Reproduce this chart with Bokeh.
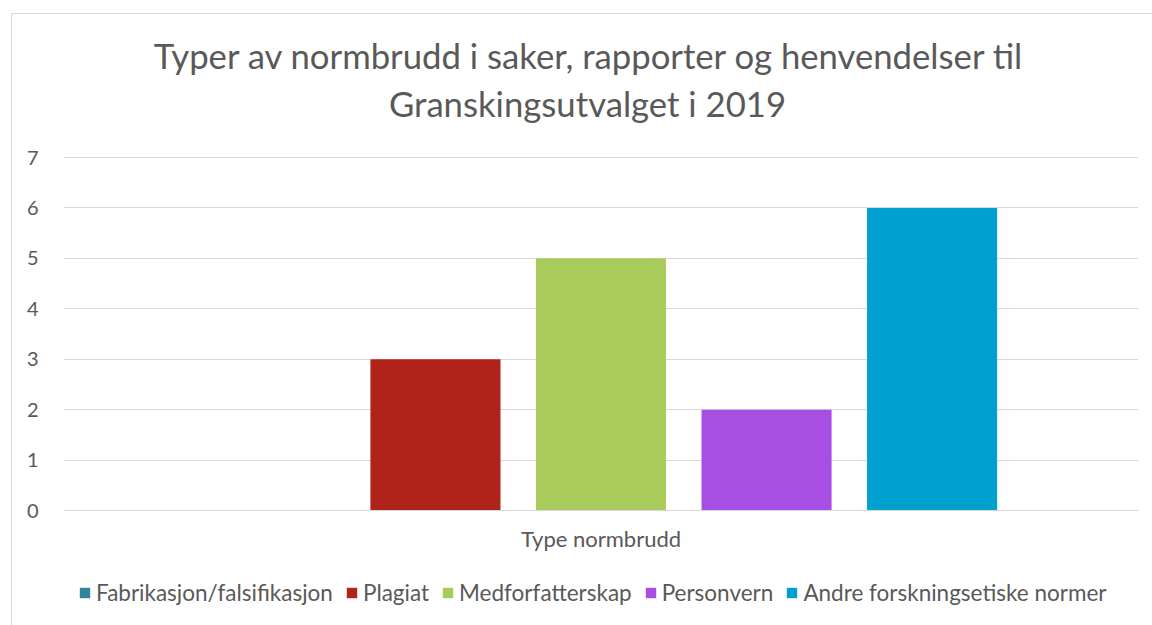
from bokeh.plotting import figure
from bokeh.layouts import column
from bokeh.models import ColumnDataSource, FactorRange, Range1d, FixedTicker, Label, Legend
from bokeh.transform import dodge
from bokeh.embed import file_html
from bokeh.resources import INLINE

# ---- data ----
category = ["Type normbrudd"]
series = ["Fabrikasjon/falsifikasjon", "Plagiat", "Medforfatterskap",
          "Personvern", "Andre forskningsetiske normer"]
values = [0, 3, 5, 2, 6]
colors = ["#31849B", "#B0231B", "#A9CB5B", "#A64FE2", "#00A1CF"]
y_ticks = [0, 1, 2, 3, 4, 5, 6, 7]
title_lines = ["Typer av normbrudd i saker, rapporter og henvendelser til",
               "Granskingsutvalget i 2019"]

FONT = "Lato"
TEXT = "#595959"
GRID = "#d9d9d9"
W = 1140


def strip(height):
    f = figure(width=W, height=height, x_range=Range1d(0, 1), y_range=Range1d(0, 1),
               output_backend="svg", toolbar_location=None, min_border=0)
    f.axis.visible = False
    f.grid.visible = False
    f.outline_line_color = None
    return f


# ---- title strip (frame aligned with the chart frame by the column) ----
p0 = strip(126)
for txt, x, y in zip(title_lines, [526, 524], [85, 37]):
    p0.add_layout(Label(x=x, y=y, x_units="screen", y_units="screen", text=txt,
                        text_font=FONT, text_font_size="34.7px", text_color=TEXT,
                        text_align="center", text_baseline="alphabetic"))

# ---- chart ----
p = figure(width=W, height=420, x_range=FactorRange(factors=category, range_padding=0),
           y_range=Range1d(0, 7.02), output_backend="svg", toolbar_location=None,
           min_border_left=51, min_border_right=14, min_border_top=16,
           min_border_bottom=50)
p.outline_line_color = None

step = 0.154
bw = 0.121
n = len(series)
for i, (s, v, c) in enumerate(zip(series, values, colors)):
    src = ColumnDataSource(dict(x=category, top=[v]))
    p.vbar(x=dodge("x", (i - (n - 1) / 2) * step, range=p.x_range), top="top", width=bw,
           source=src, fill_color=c, line_color=None)

p.yaxis.ticker = FixedTicker(ticks=y_ticks)
p.yaxis.axis_line_color = None
p.yaxis.major_tick_line_color = None
p.yaxis.minor_tick_line_color = None
p.yaxis.major_label_standoff = 19
p.yaxis.major_label_text_font = FONT
p.yaxis.major_label_text_font_size = "20px"
p.yaxis.major_label_text_color = TEXT

p.xaxis.axis_line_color = GRID
p.xaxis.major_tick_line_color = None
p.xaxis.minor_tick_line_color = None
p.xaxis.major_label_standoff = 8
p.xaxis.major_label_text_font = FONT
p.xaxis.major_label_text_font_size = "22px"
p.xaxis.major_label_text_color = TEXT

p.xgrid.grid_line_color = None
p.ygrid.grid_line_color = GRID
p.ygrid.grid_line_width = 1

# ---- legend strip ----
p2 = strip(65)
items = []
for s, c in zip(series, colors):
    proxy = ColumnDataSource(dict(x=[0.5], top=[0], bottom=[0]))
    r = p2.vbar(x="x", top="top", bottom="bottom", width=0.0, source=proxy,
                fill_color=c, line_color=None)
    items.append((s, [r]))
leg = Legend(items=items, orientation="horizontal", location=(15, 19),
             glyph_width=13, glyph_height=13, label_standoff=5, spacing=12,
             padding=5, margin=0, border_line_color=None, background_fill_alpha=0,
             label_text_font=FONT, label_text_font_size="22.5px", label_text_color=TEXT)
p2.add_layout(leg, "center")

layout = column(p0, p, p2, spacing=0, margin=(13, 0, 0, 11),
                styles={"border-left": "1px solid #d9d9d9", "border-top": "1px solid #d9d9d9"})

open("out.html", "w").write(file_html(layout, INLINE))
